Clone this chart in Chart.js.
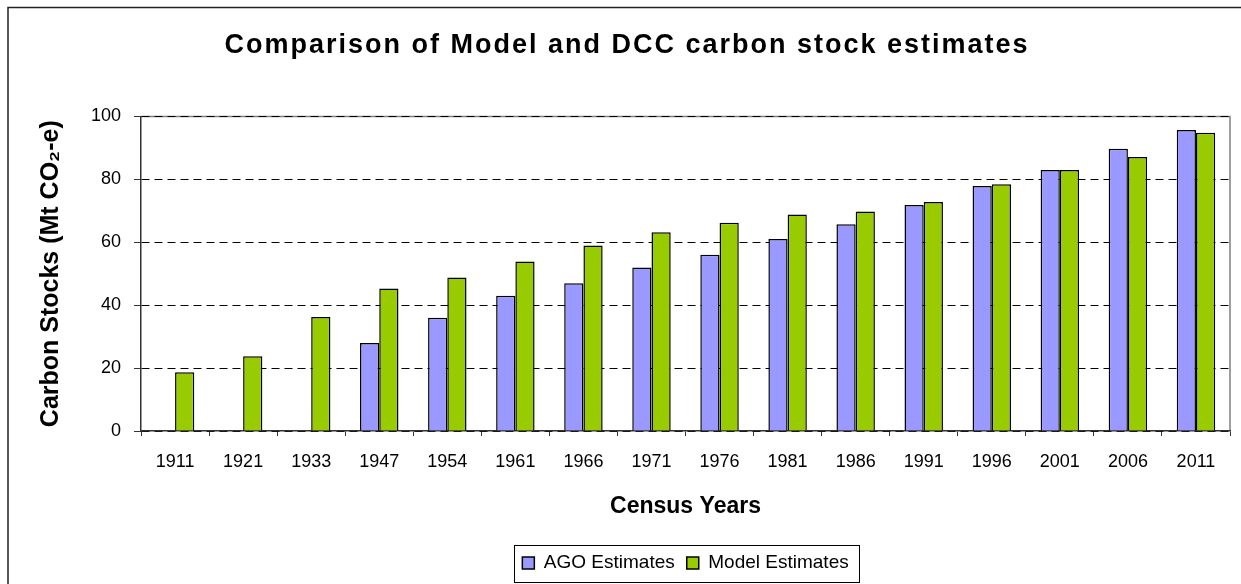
<!DOCTYPE html>
<html>
<head>
<meta charset="utf-8">
<title>Comparison of Model and DCC carbon stock estimates</title>
<script src="https://cdn.jsdelivr.net/npm/chart.js@4.4.0/dist/chart.umd.min.js"></script>
<style>
  html, body { margin: 0; padding: 0; background: #fff; }
  #chart { display: block; }
</style>
</head>
<body>
<canvas id="chart" width="1241" height="584"></canvas>
<script>
// census years (x axis)
var years = ["1911", "1921", "1933", "1947", "1954", "1961", "1966", "1971",
             "1976", "1981", "1986", "1991", "1996", "2001", "2006", "2011"];

// Mt CO2-e. AGO has nothing before 1947
var agoEstimates = [null, null, null, 28, 36, 43, 47, 52, 56, 61, 65.7, 71.8, 77.9, 83, 89.7, 95.7];
var modelEstimates = [18.7, 23.8, 36.2, 45.3, 48.8, 53.9, 59, 63.2, 66.2, 68.8, 69.8, 72.8, 78.4, 83, 87.1, 94.8];

var yTicks = [0, 20, 40, 60, 80, 100];

var fontFamily = "'Liberation Sans', Arial, sans-serif";

// grey frame on top / right of plot area, drawn before the grid
var plotFrame = {
	id: "plotFrame",
	beforeDraw: function(chart) {
		var ctx = chart.ctx, a = chart.chartArea;
		ctx.save();
		ctx.strokeStyle = "#808080";
		ctx.lineWidth = 1.5;
		ctx.beginPath();
		ctx.moveTo(a.left, a.top);
		ctx.lineTo(a.right, a.top);
		ctx.lineTo(a.right, a.bottom);
		ctx.stroke();
		ctx.restore();
	},
	afterDraw: function(chart) {
		var ctx = chart.ctx;
		ctx.save();

		//outer border of the picture (left + top only)
		ctx.strokeStyle = "#222";
		ctx.lineWidth = 1.5;
		ctx.beginPath();
		ctx.moveTo(8, chart.height);
		ctx.lineTo(8, 7.5);
		ctx.lineTo(chart.width, 7.5);
		ctx.stroke();

		//box round the legend
		var boxes = chart.legend.legendHitBoxes;
		if (boxes && boxes.length) {
			var l = boxes[0].left, r = 0, t = boxes[0].top, h = boxes[0].height;
			boxes.forEach(function(b) {
				l = Math.min(l, b.left);
				r = Math.max(r, b.left + b.width);
			});
			ctx.strokeStyle = "#000";
			ctx.lineWidth = 1;
			ctx.strokeRect(Math.round(l - 8) + 0.5, Math.round(t - 9) + 0.5,
				Math.round(r - l + 19), Math.round(h + 18));
		}
		ctx.restore();
	}
};

// the original title is spaced wider than plain Arial
var spacedTitle = {
	id: "spacedTitle",
	afterInit: function(chart) {
		var block = chart.titleBlock;
		if (!block) return;
		var orig = block.draw;
		block.draw = function() {
			var ctx = chart.ctx;
			ctx.save();
			ctx.letterSpacing = "2px";
			ctx.translate(12, 0);
			orig.apply(this, arguments);
			ctx.restore();
		};
	}
};

var ctx = document.getElementById("chart");
var chart = new Chart(ctx, {
	type: "bar",
	data: {
		labels: years,
		datasets: [
			{
				label: "AGO Estimates",
				data: agoEstimates,
				backgroundColor: "#9999FF",
				borderColor: "#000",
				borderWidth: 1.5
			},
			{
				label: "Model Estimates",
				data: modelEstimates,
				backgroundColor: "#99CC00",
				borderColor: "#000",
				borderWidth: 1.5
			}
		]
	},
	options: {
		responsive: false,
		animation: false,
		devicePixelRatio: 1,
		layout: {
			padding: { left: 0, right: 11, top: 0, bottom: 1.5 }
		},
		datasets: {
			bar: { barPercentage: 1, categoryPercentage: 0.565 }
		},
		plugins: {
			title: {
				display: true,
				text: "Comparison of Model and DCC carbon stock estimates",
				color: "#000",
				font: { family: fontFamily, size: 27, weight: "bold" },
				padding: { top: 29, bottom: 55 }
			},
			legend: {
				position: "bottom",
				fullSize: false,
				labels: {
					color: "#000",
					boxWidth: 12,
					boxHeight: 12,
					padding: 12,
					font: { family: fontFamily, size: 19 }
				}
			},
			tooltip: { enabled: false }
		},
		scales: {
			x: {
				grid: {
					offset: true,
					drawOnChartArea: false,
					tickLength: 5,
					color: "#333",
					tickBorderDash: []
				},
				border: { color: "#333", width: 1.5 },
				ticks: {
					color: "#000",
					padding: 15,
					maxRotation: 0,
					font: { family: fontFamily, size: 18 }
				},
				title: {
					display: true,
					text: "Census Years",
					color: "#000",
					font: { family: fontFamily, size: 23, weight: "bold" },
					padding: { top: 5.6, bottom: 20.7 }
				}
			},
			y: {
				min: 0,
				max: 100,
				afterBuildTicks: function(axis) {
					axis.ticks = yTicks.map(function(v) { return { value: v }; });
				},
				grid: {
					color: "#000",
					tickColor: "#333",
					tickLength: 7,
					tickBorderDash: []
				},
				border: { color: "#333", width: 1.5, dash: [8, 5] },
				ticks: {
					color: "#000",
					padding: 13,
					font: { family: fontFamily, size: 18 }
				},
				title: {
					display: true,
					text: "Carbon Stocks (Mt CO\u2082-e)",
					color: "#000",
					font: { family: fontFamily, size: 25, weight: "bold" },
					padding: { top: 36, bottom: 12 }
				}
			}
		}
	},
	plugins: [plotFrame, spacedTitle]
});
</script>
</body>
</html>
